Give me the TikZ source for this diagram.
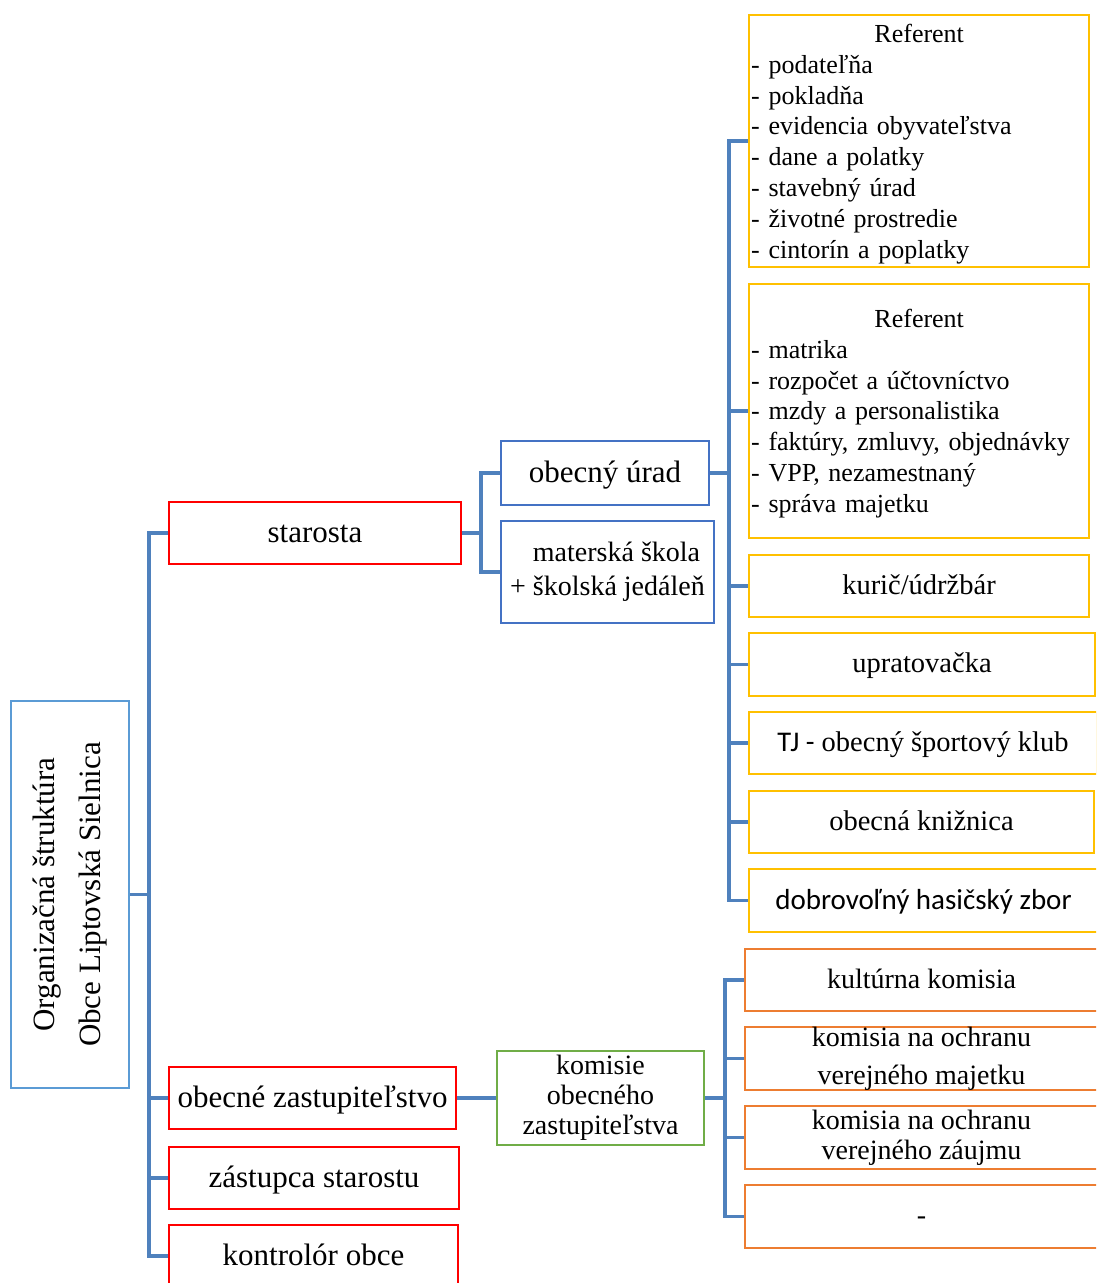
\documentclass[tikz,border=0pt]{standalone}
\usepackage{fontspec}
\setmainfont{Liberation Serif}
\newfontfamily\calibrifont{Carlito}
\definecolor{conncol}{HTML}{4F81BD}
\definecolor{rootc}{HTML}{5B9BD5}
\definecolor{redc}{HTML}{FF0000}
\definecolor{bluec}{HTML}{4472C4}
\definecolor{yelc}{HTML}{FFC000}
\definecolor{greenc}{HTML}{70AD47}
\definecolor{orc}{HTML}{ED7D31}
\newcommand\mystrut{\rule[-0.2em]{0pt}{1em}}
\tikzset{
  box/.style={draw, line width=2.2pt, fill=white, inner sep=0pt, align=center, text=black},
  oneline/.style={execute at begin node=\mystrut},
  redbox/.style={box, oneline, draw=redc, minimum height=62pt, font=\fontsize{31}{38}\selectfont},
  bluebox/.style={box, draw=bluec},
  yelbox/.style={box, oneline, draw=yelc, font=\fontsize{28.5}{34}\selectfont},
  orbox/.style={box, draw=orc, minimum width=353pt, minimum height=63pt, font=\fontsize{28}{30}\selectfont},
  reftext/.style={anchor=north west, inner sep=0pt, align=left, text width=336pt, font=\fontsize{26}{30.8}\selectfont},
  conn/.style={draw=conncol, line width=3.2pt, line join=miter}
}
\begin{document}
\begin{tikzpicture}[x=1pt,y=-1pt]
\useasboundingbox (0,0) rectangle (1096,1283);
\clip (0,0) rectangle (1096,1283);
% root
\node[box, draw=rootc, rotate=90, minimum width=387pt, minimum height=118pt, font=\fontsize{31}{46}\selectfont] (root) at (70,894.5) {Organizačná štruktúra\\Obce Liptovská Sielnica};
% level 1
\node[redbox, minimum width=292pt] (starosta) at (315,533) {starosta};
\node[redbox, minimum width=287pt] (zastup) at (312.5,1098) {obecné zastupiteľstvo};
\node[redbox, minimum width=290pt] (zastupca) at (314,1178) {zástupca starostu};
\node[redbox, minimum width=289pt] (kontrolor) at (313.5,1256) {kontrolór obce};
% level 2
\node[bluebox, oneline, minimum width=208pt, minimum height=64pt, font=\fontsize{31}{38}\selectfont] (urad) at (605,473) {obecný úrad};
\node[bluebox, minimum width=213pt, minimum height=102pt, font=\fontsize{28}{34}\selectfont] (skola) at (607.5,572) {\hspace*{18pt}materská škola\\+ školská jedáleň};
\node[box, draw=greenc, minimum width=207pt, minimum height=94pt, font=\fontsize{28}{30}\selectfont] (komisie) at (600.5,1098) {komisie\\obecného\\zastupiteľstva};
% level 3 (urad)
\node[box, draw=yelc, minimum width=340pt, minimum height=252pt] (ref1) at (919,141) {};
\node[reftext] (ref1t) at (751,24) {\makebox[336pt]{Referent}\\- podateľňa\\- pokladňa\\- evidencia obyvateľstva\\- dane a polatky\\- stavebný úrad\\- životné prostredie\\- cintorín a poplatky};
\node[box, draw=yelc, minimum width=340pt, minimum height=254pt] (ref2) at (919,411) {};
\node[reftext] (ref2t) at (751,309) {\makebox[336pt]{Referent}\\- matrika\\- rozpočet a účtovníctvo\\- mzdy a personalistika\\- faktúry, zmluvy, objednávky\\- VPP, nezamestnaný\\- správa majetku};
\node[yelbox, minimum width=340pt, minimum height=62pt] (kuric) at (919,586) {kurič/údržbár};
\node[yelbox, minimum width=346pt, minimum height=63pt] (uprat) at (922,664.5) {upratovačka};
\node[yelbox, minimum width=348pt, minimum height=62pt] (tj) at (923,743) {{\calibrifont TJ -} obecný športový klub};
\node[yelbox, minimum width=345pt, minimum height=62pt] (kniz) at (921.5,822) {obecná knižnica};
\node[yelbox, minimum width=349pt, minimum height=63pt, font=\calibrifont\fontsize{29}{34}\selectfont] (hasic) at (923.5,900.5) {dobrovoľný hasičský zbor};
% level 3 (komisie)
\node[orbox, oneline, minimum height=62pt] (kult) at (921.5,980) {kultúrna komisia};
\node[orbox, font=\fontsize{28}{38}\selectfont] (kmaj) at (921.5,1058.5) {komisia na ochranu\\verejného majetku};
\node[orbox] (kzau) at (921.5,1137.5) {komisia na ochranu\\verejného záujmu};
\node[orbox, oneline] (kdash) at (921.5,1216.5) {-};
% connectors
\coordinate (trunk) at (149,1256);
\draw[conn] (starosta.west) -| (trunk) -- (kontrolor.west);
\draw[conn] (root.south) -- (root.south -| trunk);
\draw[conn] (zastup.west) -- (zastup.west -| trunk);
\draw[conn] (zastupca.west) -- (zastupca.west -| trunk);
\coordinate (sx) at (481,572);
\draw[conn] (urad.west) -| (sx) -- (skola.west);
\draw[conn] (starosta.east) -- (starosta.east -| sx);
\coordinate (ux) at (729,900.5);
\draw[conn] (ref1.west) -| (ux) -- (hasic.west);
\draw[conn] (urad.east) -- (urad.east -| ux);
\draw[conn] (ref2.west) -- (ref2.west -| ux);
\draw[conn] (kuric.west) -- (kuric.west -| ux);
\draw[conn] (uprat.west) -- (uprat.west -| ux);
\draw[conn] (tj.west) -- (tj.west -| ux);
\draw[conn] (kniz.west) -- (kniz.west -| ux);
\draw[conn] (zastup.east) -- (komisie.west);
\coordinate (kx) at (725,1216.5);
\draw[conn] (kult.west) -| (kx) -- (kdash.west);
\draw[conn] (komisie.east) -- (komisie.east -| kx);
\draw[conn] (kmaj.west) -- (kmaj.west -| kx);
\draw[conn] (kzau.west) -- (kzau.west -| kx);
\end{tikzpicture}
\end{document}
